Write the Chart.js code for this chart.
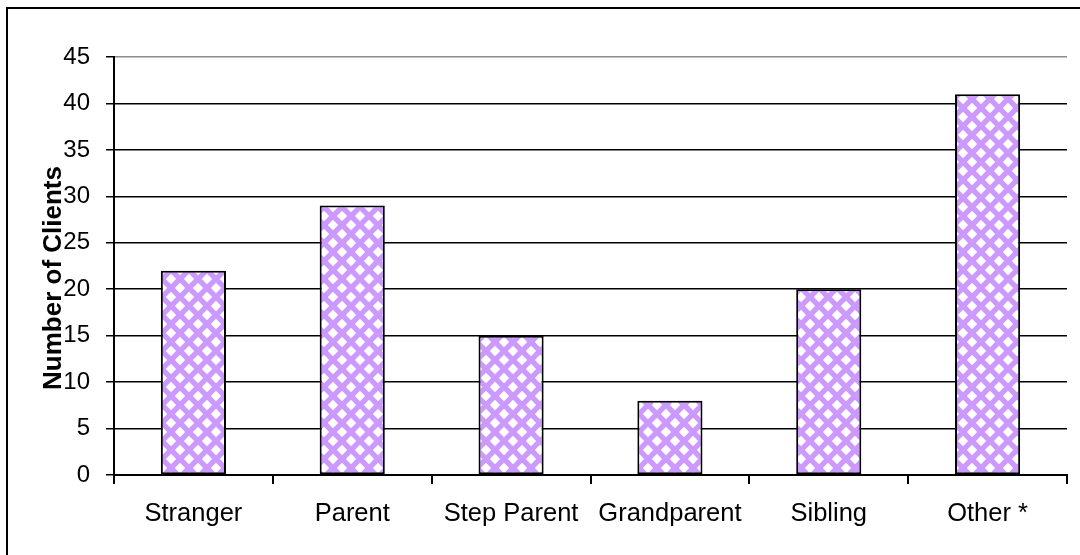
<!DOCTYPE html>
<html>
<head>
<meta charset="utf-8">
<title>Number of Clients</title>
<script src="https://cdn.jsdelivr.net/npm/chart.js@4/dist/chart.umd.min.js"></script>
<style>
  html, body { margin: 0; padding: 0; background: #fff; }
  #wrap { width: 1080px; height: 555px; position: relative; }
</style>
</head>
<body>
<div id="wrap"><canvas id="chart" width="1080" height="555"></canvas></div>
<script>
const categories = ['Stranger', 'Parent', 'Step Parent', 'Grandparent', 'Sibling', 'Other *'];
const clientCounts = [22, 29, 15, 8, 20, 41];
const yTicks = [0, 5, 10, 15, 20, 25, 30, 35, 40, 45];
const yTitle = 'Number of Clients';

const FONT = '"Liberation Sans", Arial, sans-serif';

// lilac fill with white diamonds, like the old spreadsheet pattern.
// Drawn over a 3x3 block of tiles and softened, then the middle tile is kept
function diamondPattern() {
  const size = 18;
  const big = document.createElement('canvas');
  big.width = size * 3;
  big.height = size * 3;
  const b = big.getContext('2d');
  b.fillStyle = '#cc99ff';
  b.fillRect(0, 0, big.width, big.height);
  b.fillStyle = '#ffffff';
  const h = 5.2;
  for (let y = 0; y <= big.height; y += size / 2) {
    const shift = (y / (size / 2)) % 2 ? size / 2 : 0;
    for (let x = shift; x <= big.width; x += size) {
      b.beginPath();
      b.moveTo(x, y - h);
      b.lineTo(x + h, y);
      b.lineTo(x, y + h);
      b.lineTo(x - h, y);
      b.closePath();
      b.fill();
    }
  }
  const soft = document.createElement('canvas');
  soft.width = big.width;
  soft.height = big.height;
  const s = soft.getContext('2d');
  s.filter = 'blur(0.6px)';
  s.drawImage(big, 0, 0);

  const tile = document.createElement('canvas');
  tile.width = size;
  tile.height = size;
  tile.getContext('2d').drawImage(soft, size, size, size, size, 0, 0, size, size);
  return tile.getContext('2d').createPattern(tile, 'repeat');
}

// frame around the whole chart and the rotated axis title
const decorations = {
  id: 'decorations',
  beforeDraw(chart) {
    const ctx = chart.ctx;
    ctx.save();
    ctx.fillStyle = '#fff';
    ctx.fillRect(0, 0, chart.width, chart.height);
    ctx.strokeStyle = '#000';
    ctx.lineWidth = 2;
    ctx.strokeRect(7, 8, chart.width + 20, chart.height + 20);
    ctx.restore();
  },
  afterDraw(chart) {
    const ctx = chart.ctx;
    const area = chart.chartArea;
    ctx.save();
    ctx.translate(54, (area.top + area.bottom) / 2 + 12);
    ctx.rotate(-Math.PI / 2);
    ctx.font = 'bold 26px ' + FONT;
    ctx.fillStyle = '#000';
    ctx.textAlign = 'center';
    ctx.textBaseline = 'middle';
    ctx.fillText(yTitle, 0, 0);
    ctx.restore();
  }
};

const ctx = document.getElementById('chart').getContext('2d');

new Chart(ctx, {
  type: 'bar',
  data: {
    labels: categories,
    datasets: [{
      data: clientCounts,
      backgroundColor: diamondPattern(),
      borderColor: '#000',
      borderWidth: 2,
      borderSkipped: false,
      categoryPercentage: 0.41,
      barPercentage: 1
    }]
  },
  options: {
    responsive: false,
    animation: false,
    layout: { padding: { top: 57, right: 13, left: 0, bottom: 0 } },
    plugins: {
      legend: { display: false },
      tooltip: { enabled: false }
    },
    scales: {
      x: {
        afterFit(scale) { scale.height = 80; },
        grid: {
          offset: true,
          drawOnChartArea: true,
          color: (c) => (c.index === categories.length ? '#8c8c8c' : 'rgba(0,0,0,0)'),
          lineWidth: 2,
          tickColor: '#000',
          tickLength: 9
        },
        border: { color: '#000', width: 2 },
        ticks: {
          color: '#000',
          padding: 15,
          font: { family: FONT, size: 25.5 }
        }
      },
      y: {
        min: 0,
        max: 45,
        afterFit(scale) { scale.width = 114; },
        afterBuildTicks(scale) { scale.ticks = yTicks.map(v => ({ value: v })); },
        grid: {
          color: (c) => (c.tick && c.tick.value === 45 ? '#8c8c8c' : '#000'),
          lineWidth: 1.5,
          tickColor: '#000',
          tickLength: 8
        },
        border: { color: '#000', width: 2 },
        ticks: {
          color: '#000',
          padding: 16,
          font: { family: FONT, size: 24 }
        }
      }
    }
  },
  plugins: [decorations]
});
</script>
</body>
</html>
